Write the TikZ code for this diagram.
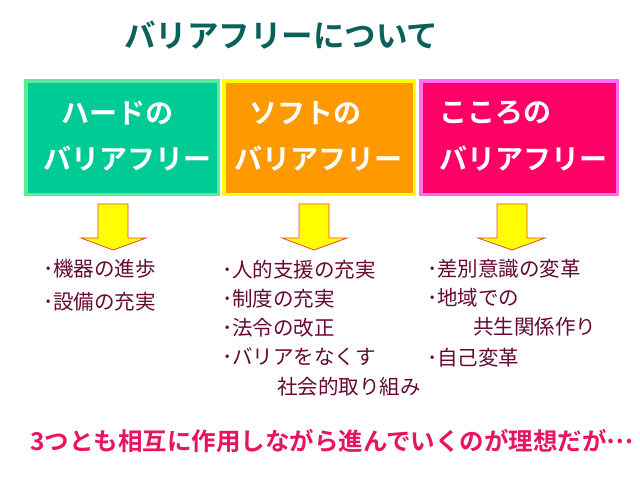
\documentclass[tikz,border=0pt]{standalone}
\usepackage{fontspec}
\newfontfamily\jpb{Noto Sans CJK JP Bold}
\newfontfamily\jp{Noto Sans CJK JP}
\definecolor{titlec}{RGB}{12,96,90}
\definecolor{gfill}{RGB}{0,202,150}
\definecolor{gline}{RGB}{90,235,150}
\definecolor{ofill}{RGB}{255,153,0}
\definecolor{oline}{RGB}{255,255,0}
\definecolor{pfill}{RGB}{255,0,102}
\definecolor{pline}{RGB}{255,110,240}
\definecolor{listc}{RGB}{100,10,50}
\definecolor{botc}{RGB}{232,20,95}
\definecolor{arrline}{RGB}{230,70,60}
\begin{document}
\begin{tikzpicture}[x=1pt,y=-1pt,
  boxtext/.style={anchor=west,inner sep=0pt,text=white,font=\jpb\fontsize{28}{30}\selectfont},
  listtext/.style={anchor=west,inner sep=0pt,text=listc,font=\jp\fontsize{20.5}{24}\selectfont},
  downarrow/.style={fill=oline,draw=arrline,line width=0.8pt,line join=miter}]
\useasboundingbox (0,0) rectangle (640,480);
\fill[white] (0,0) rectangle (640,480);
% title
\node[anchor=west,inner sep=0pt,text=titlec,font=\jpb\fontsize{31.5}{34}\selectfont] (title) at (124,35) {バリアフリーについて};
% boxes
\draw[fill=gfill,draw=gline,line width=3.5pt] (25.75,80.75) rectangle (218.25,194.25);
\draw[fill=ofill,draw=oline,line width=3.5pt] (223.75,80.75) rectangle (414.25,194.25);
\draw[fill=pfill,draw=pline,line width=3.5pt] (420.75,80.75) rectangle (617.25,194.25);
\node[boxtext] (h1) at (61,113) {ハードの};
\node[boxtext] (h2) at (43,158) {バリアフリー};
\node[boxtext] (s1) at (249,113) {ソフトの};
\node[boxtext] (s2) at (234,158) {バリアフリー};
\node[boxtext] (k1) at (439,113) {こころの};
\node[boxtext] (k2) at (439,158) {バリアフリー};
% arrows
\draw[downarrow] (98,204) -- (128,204) -- (128,238) -- (146,238) -- (113,250) -- (81,238) -- (98,238) -- cycle;
\draw[downarrow] (299,204) -- (329,204) -- (329,238) -- (347,238) -- (314,250) -- (282,238) -- (299,238) -- cycle;
\draw[downarrow] (497,204) -- (527,204) -- (527,238) -- (545,238) -- (512,250) -- (478,238) -- (497,238) -- cycle;
% lists
\node[listtext] (a1) at (43,269) {･機器の進歩};
\node[listtext] (a2) at (43,302) {･設備の充実};
\node[listtext] (b1) at (222,270) {･人的支援の充実};
\node[listtext] (b2) at (222,299) {･制度の充実};
\node[listtext] (b3) at (222,328) {･法令の改正};
\node[listtext] (b4) at (222,357) {･バリアをなくす};
\node[listtext] (b5) at (277,387) {社会的取り組み};
\node[listtext] (c1) at (427,269) {･差別意識の変革};
\node[listtext] (c2) at (427,298) {･地域での};
\node[listtext] (c3) at (473,327) {共生関係作り};
\node[listtext] (c4) at (427,358) {･自己変革};
% bottom
\node[anchor=west,inner sep=0pt,text=botc,font=\jpb\fontsize{24.5}{28}\selectfont] (bot) at (30,441) {3つとも相互に作用しながら進んでいくのが理想だが\raisebox{0.3em}{…}};
\end{tikzpicture}
\end{document}
